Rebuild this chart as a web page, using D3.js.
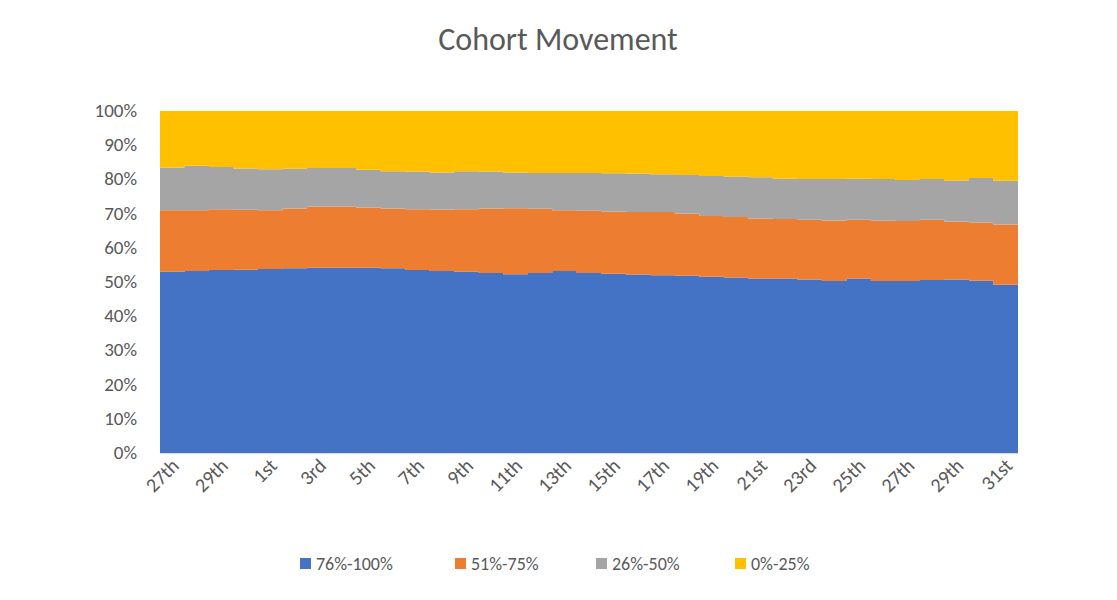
<!DOCTYPE html>
<html><head><meta charset="utf-8">
<script src="https://cdn.jsdelivr.net/npm/d3@7"></script>
<style>
body{margin:0;background:#fff;font-family:Calibri,Carlito,"Liberation Sans",sans-serif;}
</style></head>
<body><svg id="chart" width="1117" height="600"></svg>
<script>
var days = ["27th","28th","29th","30th","1st","2nd","3rd","4th","5th","6th","7th","8th","9th","10th","11th","12th","13th","14th","15th","16th","17th","18th","19th","20th","21st","22nd","23rd","24th","25th","26th","27th","28th","29th","30th","31st"];
var seriesNames = ["76%-100%","51%-75%","26%-50%","0%-25%"];
var colors = ["#4472c4","#ed7d31","#a5a5a5","#ffc000"];
// upper edges of each band (percent)
var blueTop = [53.0,53.2,53.5,53.6,53.8,54.0,54.2,54.2,54.2,54.0,53.5,53.2,53.0,52.6,52.3,52.6,53.2,52.6,52.4,52.2,52.0,51.8,51.5,51.3,51.0,51.0,50.7,50.3,51.0,50.3,50.3,50.6,50.7,50.4,49.2];
var orangeTop = [71.0,71.0,71.3,71.1,71.0,71.5,72.0,72.0,71.8,71.5,71.3,71.2,71.3,71.5,71.6,71.4,71.0,70.8,70.6,70.5,70.5,70.0,69.3,69.0,68.6,68.4,68.2,68.0,68.2,67.9,67.8,68.2,67.7,67.3,66.8];
var grayTop = [83.5,84.0,83.6,83.2,83.0,83.1,83.3,83.3,82.8,82.4,82.3,82.0,82.4,82.3,82.0,81.9,81.9,81.9,81.8,81.7,81.5,81.3,81.0,80.8,80.6,80.2,80.1,80.1,80.2,80.1,79.8,80.1,79.7,80.4,79.6];
var yTicks = [0,10,20,30,40,50,60,70,80,90,100];

var rows = days.map(function (d, i) {
    var r = {day: d, i: i};
    r[seriesNames[0]] = blueTop[i];
    r[seriesNames[1]] = orangeTop[i] - blueTop[i];
    r[seriesNames[2]] = grayTop[i] - orangeTop[i];
    r[seriesNames[3]] = 100 - grayTop[i];
    return r;
});
rows.push(Object.assign({}, rows[rows.length - 1], {i: rows.length}));

var svg = d3.select("#chart");
var padLeft = 160, padRight = 1018, padTop = 111, padBot = 453;
var x = d3.scaleLinear().domain([0, days.length]).range([padLeft, padRight]);
var y = d3.scaleLinear().domain([0, 100]).range([padBot, padTop]);

var stack = d3.stack().keys(seriesNames)(rows);
var area = d3.area().curve(d3.curveStepAfter)
    .x(function (d) { return x(d.data.i); })
    .y0(function (d) { return y(d[0]); })
    .y1(function (d) { return y(d[1]); });
svg.selectAll("path.layer").data(stack).enter().append("path")
    .attr("class", "layer")
    .attr("d", area)
    .attr("fill", function (d, i) { return colors[i]; });

svg.append("text").attr("x", 558).attr("y", 50).attr("text-anchor", "middle")
    .attr("font-size", 32).attr("fill", "#595959").text("Cohort Movement");

svg.selectAll("text.yt").data(yTicks).enter().append("text")
    .attr("class", "yt").attr("x", 137).attr("y", function (d) { return y(d) + 6; })
    .attr("text-anchor", "end").attr("font-size", 19).attr("fill", "#595959")
    .text(function (d) { return d + "%"; });

svg.append("line").attr("x1", padLeft).attr("x2", padRight).attr("y1", padBot + 0.5).attr("y2", padBot + 0.5)
    .attr("stroke", "#d9d9d9");

days.forEach(function (d, i) {
    if (i % 2) return;
    var cx = x(i + 0.5);
    svg.append("text").attr("transform", "translate(" + (cx + 8) + "," + (padBot + 14) + ") rotate(-45)")
        .attr("text-anchor", "end").attr("font-size", 20).attr("fill", "#595959").text(d);
});

var lx = [300, 455, 596, 735];
seriesNames.forEach(function (n, i) {
    svg.append("rect").attr("x", lx[i]).attr("y", 558).attr("width", 11).attr("height", 11).attr("fill", colors[i]);
    svg.append("text").attr("x", lx[i] + 16).attr("y", 570).attr("font-size", 18).attr("fill", "#595959").text(n);
});
</script></body></html>
